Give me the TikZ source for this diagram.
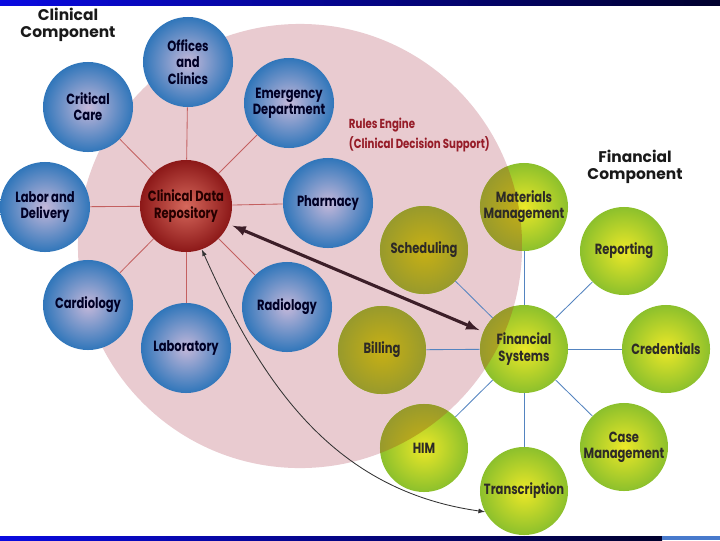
\documentclass[tikz,border=0pt]{standalone}
\usepackage{fontspec}
\setmainfont{Poppins}
\newfontfamily\ballfont[FakeStretch=0.78]{Poppins}
\usetikzlibrary{calc}

\definecolor{rulepink}{RGB}{233,203,208}
\definecolor{clinin}{RGB}{196,184,218}
\definecolor{clinout}{RGB}{48,118,186}
\definecolor{cdrin}{RGB}{214,104,92}
\definecolor{cdrout}{RGB}{140,24,24}
\definecolor{finin}{RGB}{236,232,40}
\definecolor{finout}{RGB}{140,192,44}
\definecolor{olivein}{RGB}{200,176,20}
\definecolor{oliveout}{RGB}{152,154,44}
\definecolor{clinspoke}{RGB}{196,96,96}
\definecolor{finspoke}{RGB}{84,132,192}
\definecolor{rulered}{RGB}{150,28,40}
\definecolor{darklink}{RGB}{60,30,40}
\definecolor{barblue}{RGB}{10,10,225}
\definecolor{barnavy}{RGB}{0,0,45}
\definecolor{barlight}{RGB}{72,122,204}

\begin{document}
\begin{tikzpicture}[x=0.025cm,y=-0.025cm]
\tikzstyle{ballfont}=[font=\ballfont\bfseries\fontsize{10.5}{11.5}\selectfont]
\tikzstyle{clinball}=[ballfont,circle,minimum size=2.25cm,inner sep=0pt,align=center,text=black!85!blue,inner color=clinin,outer color=clinout]
\tikzstyle{cdrball}=[ballfont,circle,minimum size=2.3cm,inner sep=0pt,align=center,text=black!85!red,inner color=cdrin,outer color=cdrout]
\tikzstyle{finball}=[ballfont,circle,minimum size=2.2cm,inner sep=0pt,align=center,text=black!90!olive,inner color=finin,outer color=finout,
	path picture={\begin{scope}\clip (pk) circle (5.55cm);
		\shade[inner color=olivein,outer color=oliveout] (path picture bounding box.center) circle (1.1cm);\end{scope}}]
\tikzstyle{titletext}=[font=\bfseries\fontsize{11}{12.5}\selectfont,align=center,text=black!90]
\tikzstyle{clinline}=[clinspoke,line width=0.6pt]
\tikzstyle{finline}=[finspoke,line width=0.6pt]

	\useasboundingbox (0,0) rectangle (720,540);
	\fill[white] (0,0) rectangle (720,540);

	% bars
	\shade[left color=barblue,right color=barnavy] (0,0) rectangle (720,5);
	\shade[left color=barblue,right color=barnavy] (0,536) rectangle (662,540);
	\fill[barlight] (662,536) rectangle (720,540);

	% rules engine
	\coordinate (pk) at (300,246);
	\fill[rulepink] (pk) circle (5.55cm);
	\node[anchor=north west,align=left,text=rulered,font=\ballfont\bfseries\fontsize{9.3}{14}\selectfont] (rules) at (344,113) {Rules Engine\\(Clinical Decision Support)};

	% clinical
	\node[cdrball] (cdr) at (186,206) {Clinical Data\\Repository};
	\node[clinball] (off) at (188,62) {Offices\\and\\Clinics};
	\node[clinball] (crit) at (88,107) {Critical\\Care};
	\node[clinball] (emer) at (289,103) {Emergency\\Department};
	\node[clinball] (labor) at (45,207) {Labor and\\Delivery};
	\node[clinball] (pharm) at (328,203) {Pharmacy};
	\node[clinball] (cardio) at (88,305) {Cardiology};
	\node[clinball] (radio) at (287,307) {Radiology};
	\node[clinball] (lab) at (186,348) {Laboratory};
	\foreach \n in {off,crit,emer,labor,pharm,cardio,radio,lab}
		\draw[clinline] (cdr) -- (\n);

	% financial
	\node[finball] (fin) at (524,349) {Financial\\Systems};
	\node[finball] (mat) at (524,207) {Materials\\Management};
	\node[finball] (sched) at (424,250) {Scheduling};
	\node[finball] (rep) at (624,251) {Reporting};
	\node[finball] (bill) at (382,350) {Billing};
	\node[finball] (cred) at (666,349) {Credentials};
	\node[finball] (him) at (424,448) {HIM};
	\node[finball] (case) at (624,447) {Case\\Management};
	\node[finball] (trans) at (524,491) {Transcription};
	\foreach \n in {mat,sched,rep,bill,cred,him,case,trans}
		\draw[finline] (fin) -- (\n);

	% titles
	\node[titletext] (clintitle) at (68,25) {Clinical\\Component};
	\node[titletext] (fintitle) at (635,167) {Financial\\Component};

	% links
	\draw[darklink,line width=2.2pt,latex-latex,shorten <=3pt,shorten >=3pt] (cdr) -- (fin);
	\draw[black!80,line width=0.6pt,latex-latex] (cdr.290) to[out=-66,in=172] (trans.208);
\end{tikzpicture}
\end{document}
